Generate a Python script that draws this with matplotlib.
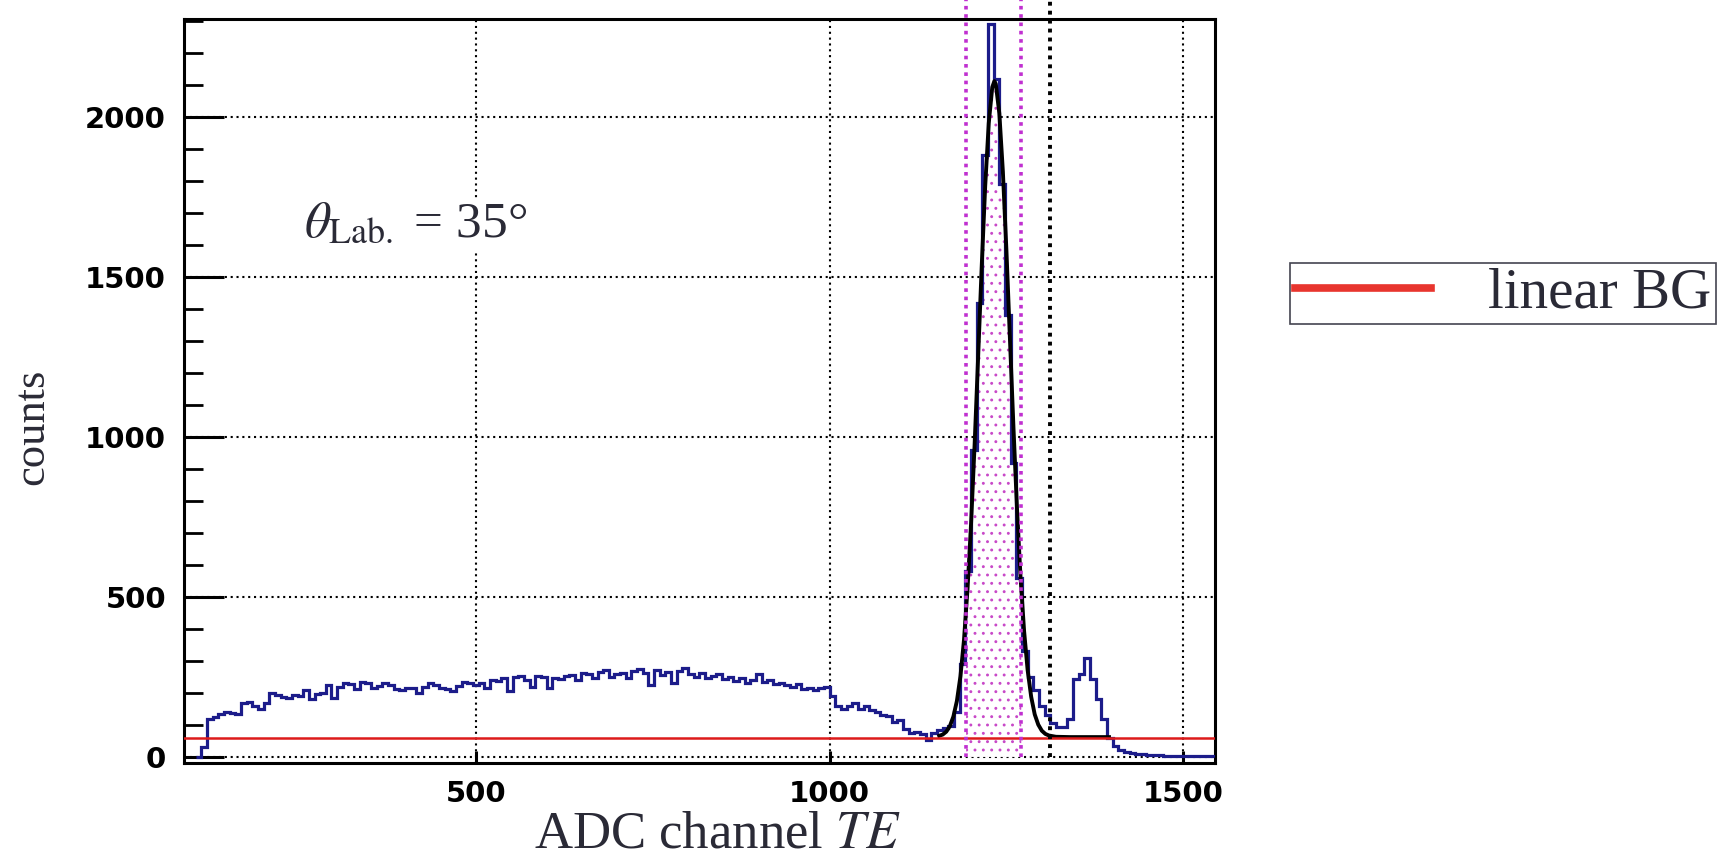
import numpy as np
import matplotlib
matplotlib.use("Agg")
import matplotlib.pyplot as plt
from matplotlib.lines import Line2D
from matplotlib.ticker import MultipleLocator

plt.rcParams['font.family'] = ['Liberation Serif', 'DejaVu Serif']
plt.rcParams['mathtext.fontset'] = 'stix'
plt.rcParams['hatch.linewidth'] = 0.9

# histogram: 8-channel bins starting at channel 104
bin_start = 104
bin_width = 8
counts = [
    0, 30, 120, 125, 135, 140, 138, 135,
    168, 172, 160, 150, 168, 200, 192, 186, 184, 192,
    190, 210, 182, 196, 200, 225, 185, 218, 230, 228,
    212, 235, 232, 216, 222, 230, 226, 212, 208, 216,
    214, 200, 218, 230, 226, 216, 212, 205, 222, 234,
    230, 225, 232, 215, 240, 236, 246, 205, 250, 254,
    240, 220, 252, 250, 215, 248, 244, 252, 256, 240,
    262, 258, 246, 266, 272, 250, 258, 262, 248, 268,
    275, 262, 225, 272, 255, 266, 232, 270, 278, 260,
    250, 262, 248, 252, 260, 245, 250, 238, 246, 232,
    240, 258, 234, 240, 228, 230, 224, 218, 228, 212,
    216, 208, 214, 218, 190, 160, 150, 158, 168, 150,
    158, 148, 140, 132, 128, 108, 116, 88, 76, 78,
    72, 52, 74, 84, 90, 96, 140, 290, 580, 960,
    1420, 1880, 2290, 2120, 1790, 1380, 920, 560, 330, 250,
    210, 160, 130, 106, 95, 92, 120, 245, 260, 310,
    245, 180, 120, 60, 34, 22, 16, 12, 10, 9,
    6, 5, 5, 4, 4, 3, 3, 3, 2, 3,
    2, 2,
]

# fitted peak (black curve)
fit_x = [1155, 1160, 1165, 1170, 1175, 1180, 1185, 1190, 1195, 1200,
         1205, 1210, 1215, 1220, 1225, 1230, 1233, 1235, 1240, 1245,
         1250, 1255, 1260, 1265, 1270, 1275, 1280, 1285, 1290, 1295,
         1300, 1305, 1310, 1320, 1340, 1360, 1380, 1395]
fit_y = [66, 70, 79, 96, 126, 175, 252, 365, 524, 728,
         974, 1249, 1529, 1784, 1980, 2093, 2112, 2103, 2011, 1829,
         1583, 1305, 1027, 774, 560, 393, 271, 188, 133, 101,
         82, 72, 67, 63, 62, 62, 62, 62]

bg_level = 60
window = [1193, 1271]
cut_line = 1311

xticks = [500, 1000, 1500]
yticks = [0, 500, 1000, 1500, 2000]

navy = '#1c1c8a'
txt_col = '#2a2a36'

fig = plt.figure(figsize=(17.17, 8.61), dpi=100)
ax = fig.add_axes([0.1072, 0.1138, 0.6005, 0.8641])

edges = bin_start + bin_width * np.arange(len(counts) + 1)
vals = np.array(counts, dtype=float)

# signal window fill
fx = np.array(fit_x, dtype=float)
fy = np.array(fit_y, dtype=float)
inside = (fx > window[0]) & (fx < window[1])
xs = np.concatenate([[window[0]], fx[inside], [window[1]]])
ys = np.interp(xs, fx, fy)
ax.fill_between(xs, 0, ys, facecolor='white', edgecolor='#c848c8',
                hatch='..', linewidth=0, zorder=2)

ax.stairs(vals, edges, color=navy, lw=2.3, zorder=3)
ax.plot(fit_x, fit_y, color='black', lw=2.8, zorder=4)
ax.axhline(bg_level, color='#dd1a1a', lw=1.8, zorder=4)

top = 2365
for xv in window:
    ax.plot([xv, xv], [0, top], color='#c030d0', lw=2.6,
            ls=(0, (1, 1.3)), clip_on=False, zorder=5)
ax.plot([cut_line, cut_line], [0, top], color='black', lw=2.8,
        ls=(0, (1, 1.3)), clip_on=False, zorder=5)

ax.set_xlim(87.6, 1545)
ax.set_ylim(-19, 2306)
ax.set_xticks(xticks)
ax.set_yticks(yticks)
ax.yaxis.set_minor_locator(MultipleLocator(100))
ax.grid(True, color='black', ls=(0, (1, 1.8)), lw=1.5, zorder=1)
ax.set_axisbelow(True)

for s in ax.spines.values():
    s.set_linewidth(2.2)
ax.tick_params(axis='y', which='major', direction='in', length=29, width=2.2,
               pad=13, labelsize=21)
ax.tick_params(axis='y', which='minor', direction='in', length=14, width=2.0)
ax.tick_params(axis='x', which='major', direction='in', length=9, width=2.2,
               pad=12, labelsize=21)
for lab in ax.get_xticklabels() + ax.get_yticklabels():
    lab.set_fontfamily('DejaVu Sans')
    lab.set_fontweight('bold')

ax.text(257, 1625, r'$\theta_{\mathrm{Lab.}}$ = 35°', fontsize=37,
        color=txt_col, va='baseline', ha='left', zorder=6,
        bbox=dict(facecolor='white', edgecolor='none', pad=2))

fig.text(0.4176, 0.016, r'ADC channel $TE$', fontsize=38, color=txt_col,
         ha='center', va='baseline')
fig.text(0.019, 0.504, 'counts', fontsize=32, color=txt_col, rotation=90,
         ha='center', va='center')

handle = Line2D([], [], color='#e8352e', lw=5.5)
leg = fig.legend([handle], ['linear BG'], loc='upper left',
                 bbox_to_anchor=(1290 / 1717, 1 - 263 / 861),
                 fontsize=41, handlelength=2.4, handletextpad=1.0,
                 borderpad=0.08, borderaxespad=0, fancybox=False,
                 framealpha=1, edgecolor='#444450')
leg.get_frame().set_linewidth(1.2)
for t in leg.get_texts():
    t.set_color(txt_col)

fig.savefig('out.png', dpi=100)
